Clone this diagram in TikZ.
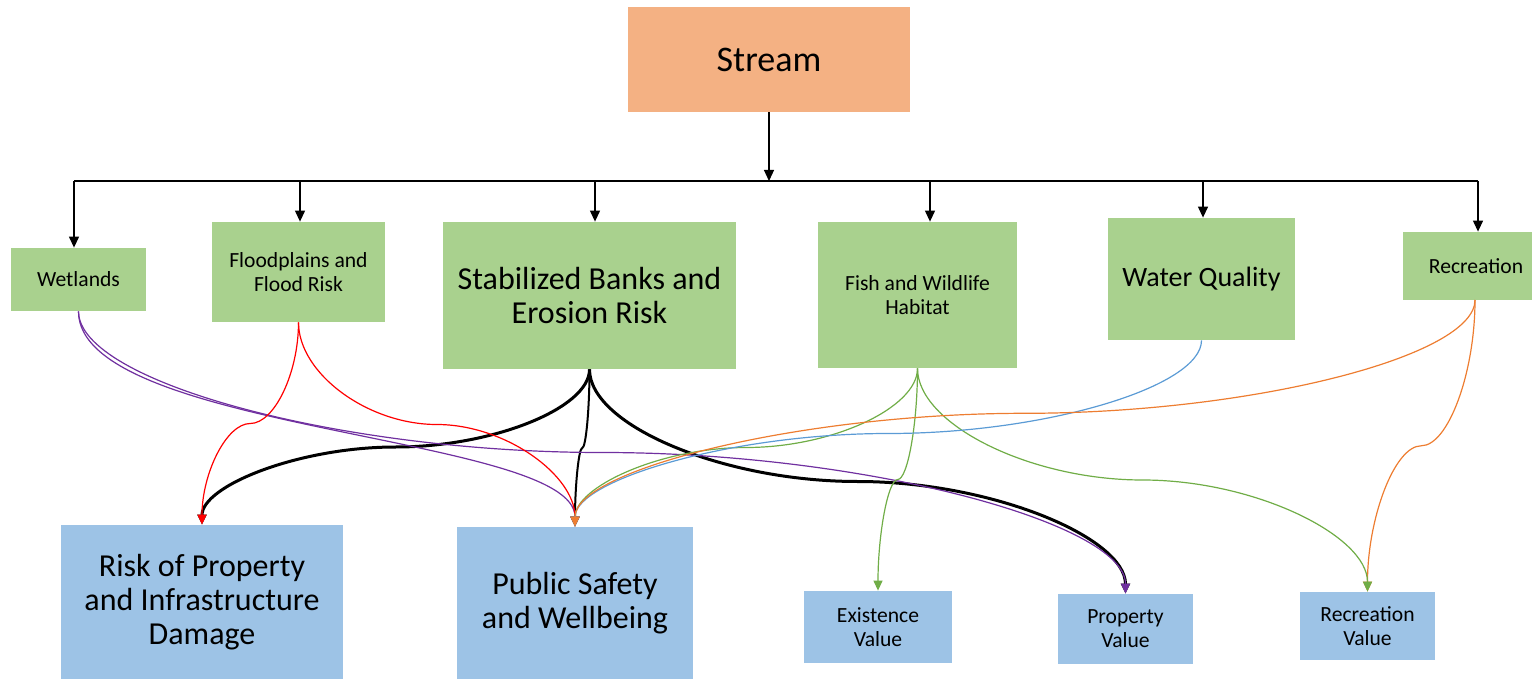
\documentclass[tikz,border=0pt]{standalone}
\usepackage{fontspec}
\setmainfont{Carlito}
\usetikzlibrary{arrows.meta,calc}
\definecolor{orfill}{HTML}{F4B183}
\definecolor{grfill}{HTML}{A9D18E}
\definecolor{blfill}{HTML}{9DC3E6}
\definecolor{cpurple}{HTML}{7030A0}
\definecolor{cred}{HTML}{FF0000}
\definecolor{cgreen}{HTML}{70AD47}
\definecolor{cblue}{HTML}{5B9BD5}
\definecolor{corange}{HTML}{ED7D31}
\tikzset{
  box/.style={draw=none, inner sep=1pt, align=center, text=black},
  gbox/.style={box, fill=grfill},
  bbox/.style={box, fill=blfill},
  obox/.style={box, fill=orfill},
  bigtxt/.style={font=\fontsize{16}{17}\selectfont},
  midtxt/.style={font=\fontsize{14}{16}\selectfont},
  smalltxt/.style={font=\fontsize{10.8}{12}\selectfont},
  tree/.style={line width=0.6pt, black},
  treetip/.style={tree, -{Triangle[width=5pt,length=5.5pt]}},
  ctip/.style={-{Triangle[width=4.5pt,length=5pt]}},
  thin conn/.style={line width=0.6pt, ctip},
}
\newcommand\pconn[3]{%
  \path ($(#2)!.25!(#3)$) coordinate (q1) ($(#2)!.5!(#3)$) coordinate (qm) ($(#2)!.75!(#3)$) coordinate (q3);
  \draw[#1] (#2) .. controls (#2 |- q1) and (q1 |- qm) .. (qm) .. controls (q3 |- qm) and (#3 |- q3) .. (#3);
}
\begin{document}
\begin{tikzpicture}[x=0.5pt, y=-0.5pt]
\useasboundingbox (0,0) rectangle (1532,679);

% top
\node[obox, minimum width=141pt, minimum height=52.5pt, font=\fontsize{18}{21}\selectfont] (stream) at (769,59.5) {Stream};

% green row
\node[gbox, smalltxt, minimum width=67.5pt, minimum height=31.5pt] (wet) at (78.5,279.5) {Wetlands};
\node[gbox, smalltxt, minimum width=86.5pt, minimum height=50pt] (flood) at (298.5,272) {Floodplains and\\Flood Risk};
\node[gbox, bigtxt, minimum width=146.5pt, minimum height=73.5pt] (stab) at (589.5,295.5) {Stabilized Banks and\\Erosion Risk};
\node[gbox, smalltxt, minimum width=99.5pt, minimum height=73pt] (fish) at (917.5,295) {Fish and Wildlife\\Habitat};
\node[gbox, midtxt, minimum width=93.5pt, minimum height=61pt] (water) at (1201.5,279) {Water Quality};
\node[gbox, smalltxt, minimum width=73pt, minimum height=34pt] (rec) at (1476,266) {Recreation};

% blue row
\node[bbox, bigtxt, minimum width=141pt, minimum height=77pt] (risk) at (202,602) {Risk of Property\\and Infrastructure\\Damage};
\node[bbox, bigtxt, minimum width=118pt, minimum height=76pt] (ps) at (575,603) {Public Safety\\and Wellbeing};
\node[bbox, smalltxt, minimum width=74pt, minimum height=36pt] (ex) at (878,627) {Existence\\Value};
\node[bbox, smalltxt, minimum width=67.5pt, minimum height=35pt] (pv) at (1125.5,629) {Property\\Value};
\node[bbox, smalltxt, minimum width=67.5pt, minimum height=34pt] (rv) at (1367.5,626) {Recreation\\Value};

% tree
\coordinate (bL) at (74,181);
\coordinate (bR) at (1478,181);
\coordinate (bF) at (300,181);
\coordinate (bS) at (595,181);
\coordinate (bH) at (930,181);
\coordinate (bQ) at (1203,181);
\draw[tree] (bL) -- (bR);
\draw[treetip] (stream.south) -- (stream.south |- bL);
\draw[treetip] (bL) -- (bL |- wet.north);
\draw[treetip] (bF) -- (bF |- flood.north);
\draw[treetip] (bS) -- (bS |- stab.north);
\draw[treetip] (bH) -- (bH |- fish.north);
\draw[treetip] (bQ) -- (bQ |- water.north);
\draw[treetip] (bR) -- (bR |- rec.north);

% curved connectors
\coordinate (recS) at (1475,300);
\pconn{line width=1.5pt, black, ctip}{stab.south}{risk.north}
\pconn{line width=1pt, black, ctip}{stab.south}{ps.north}
\pconn{line width=1.5pt, black, ctip}{stab.south}{pv.north}
\draw[thin conn, cpurple] (wet.south) .. controls ($(wet.south)+(0,121)$) and ($(ps.north)+(0,-92)$) .. (ps.north);
\pconn{thin conn, cpurple}{wet.south}{pv.north}
\pconn{thin conn, cred}{flood.south}{ps.north}
\pconn{thin conn, cred}{flood.south}{risk.north}
\pconn{thin conn, corange}{recS}{rv.north}
\pconn{thin conn, cgreen}{fish.south}{ps.north}
\pconn{thin conn, cgreen}{fish.south}{ex.north}
\pconn{thin conn, cgreen}{fish.south}{rv.north}
\pconn{thin conn, cblue}{water.south}{ps.north}
\pconn{thin conn, corange}{recS}{ps.north}
\end{tikzpicture}
\end{document}
